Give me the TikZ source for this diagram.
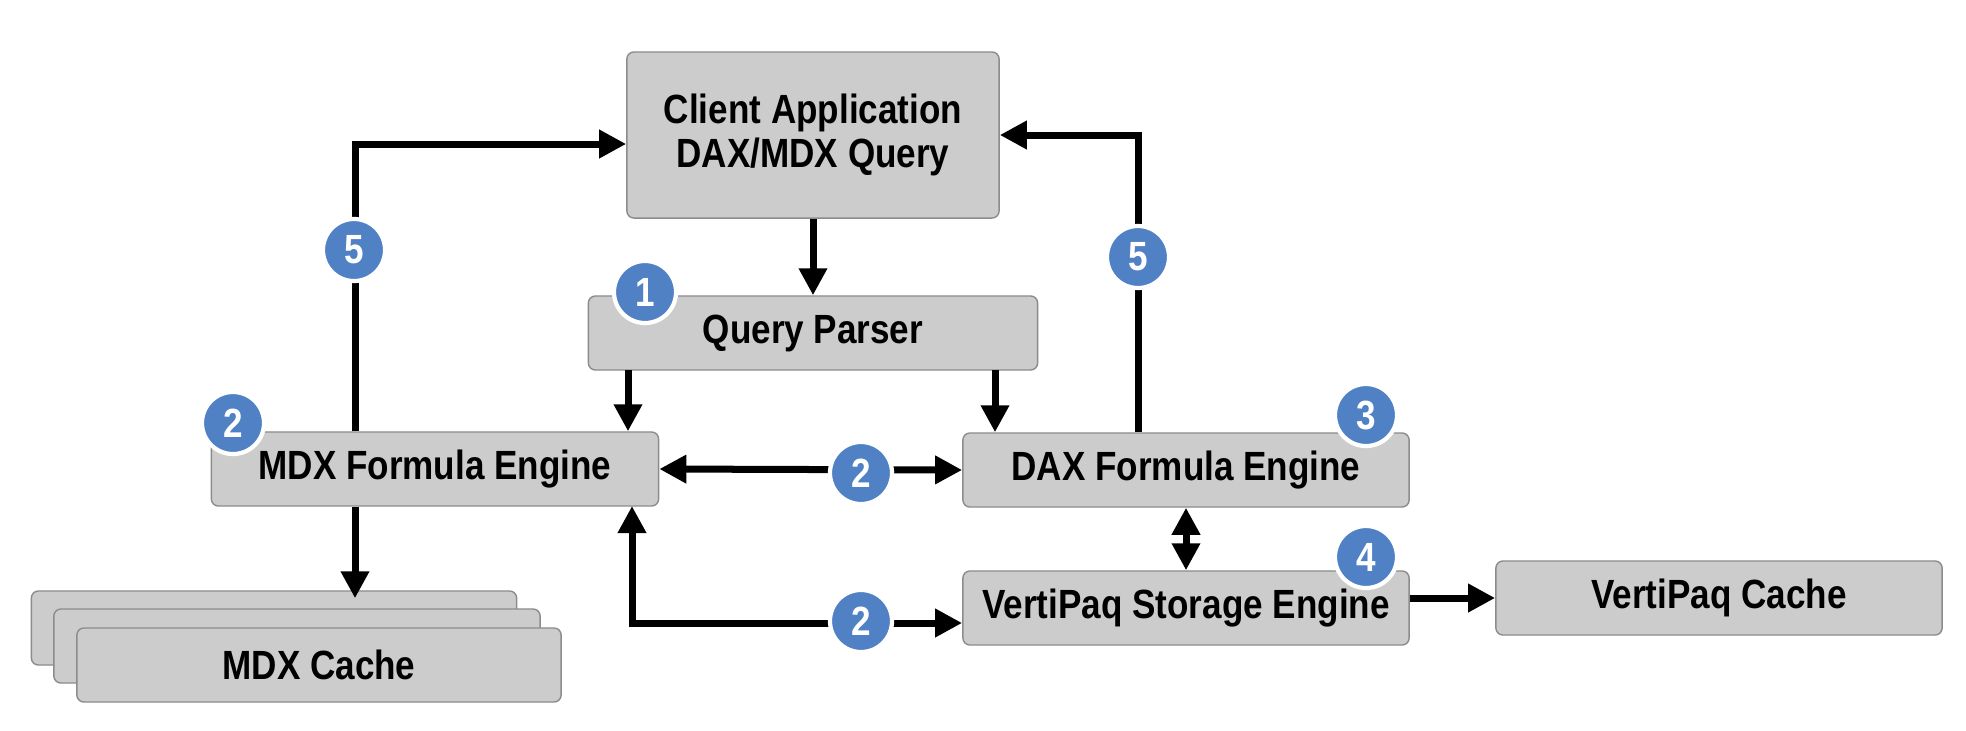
\documentclass[tikz,border=0pt]{standalone}
\usepackage{fontspec}
\setmainfont{Liberation Sans}[FakeStretch=0.86]
\usetikzlibrary{arrows.meta,positioning,shapes,backgrounds}
\definecolor{boxgray}{RGB}{204,204,204}
\definecolor{boxline}{RGB}{140,140,140}
\definecolor{badgeblue}{RGB}{79,129,196}

\begin{document}
\begin{tikzpicture}[x=0.01cm, y=-0.01cm, thick]

		\tikzstyle{engine}=[rectangle, rounded corners=2pt, thin, fill=boxgray, draw=boxline, text=black, font=\fontsize{11.6}{11.6}\selectfont\bfseries, minimum width=4.46cm, minimum height=0.74cm]
		\tikzstyle{badge}=[circle, fill=badgeblue, draw=white, line width=1.2pt, text=white, inner sep=0pt, minimum size=0.62cm, font=\fontsize{11.6}{11.6}\selectfont\bfseries]
		\tikzstyle{arr}=[-{Triangle[length=0.27cm,width=0.27cm]}, line width=0.07cm]
		\tikzstyle{darr}=[{Triangle[length=0.27cm,width=0.27cm]}-{Triangle[length=0.27cm,width=0.27cm]}, line width=0.07cm]

		\fill[white] (0,0) rectangle (1966,730);
		\useasboundingbox (0,0) rectangle (1966,730);

		\node[engine, minimum width=3.72cm, minimum height=1.66cm, align=center, font=\fontsize{11.6}{12.4}\selectfont\bfseries] (client) at (813,135) {Client Application\\DAX/MDX Query};
		\node[engine, minimum width=4.49cm] (parser) at (813,333) {Query Parser};
		\node[engine, minimum width=4.47cm] (mdx) at (435,469) {MDX Formula Engine};
		\node[engine] (dax) at (1186,470) {DAX Formula Engine};
		\node[engine] (vse) at (1186,608) {VertiPaq Storage Engine};
		\node[engine] (vcache) at (1719,598) {VertiPaq Cache};

		\node[engine, minimum width=4.85cm] (c1) at (274,628) {};
		\node[engine, minimum width=4.86cm] (c2) at (297,646) {};
		\node[engine, minimum width=4.84cm] (c3) at (319,665) {MDX Cache};

		\coordinate (pm) at (628,370);
		\coordinate (pd) at (995,370);
		\coordinate (mv) at (632,506);
		\coordinate (ml) at (355,0);
		\coordinate (dr) at (1138,0);

		% Query flow
		\draw[arr] (client) -- (parser);
		\draw[arr] (pm) -- (pm |- mdx.north);
		\draw[arr] (pd) -- (pd |- dax.north);
		\draw[darr] (mdx.east) -- (dax.west);
		\draw[darr] (mv) |- (vse.west |- 0,623);
		\draw[darr] (dax.south) -- (vse.north);
		\draw[arr] (vse.east |- vcache.west) -- (vcache.west);
		\draw[arr] (ml |- mdx.south) -- ([yshift=-0.08cm]ml |- c1.north);

		% Results back to client
		\draw[arr] (ml |- mdx.north) |- ([yshift=-0.09cm]client.west);
		\draw[arr] (dr |- dax.north) |- (client.east);

		\node[badge] (b5l) at (354,250) {5};
		\node[badge] (b5r) at (1138,257) {5};
		\node[badge] (b1) at (645,292) {1};
		\node[badge] (b2m) at (233,423) {2};
		\node[badge] (b2a) at (861,473) {2};
		\node[badge] (b2b) at (861,621) {2};
		\node[badge] (b3) at (1366,415) {3};
		\node[badge] (b4) at (1366,557) {4};
\end{tikzpicture}
\end{document}
